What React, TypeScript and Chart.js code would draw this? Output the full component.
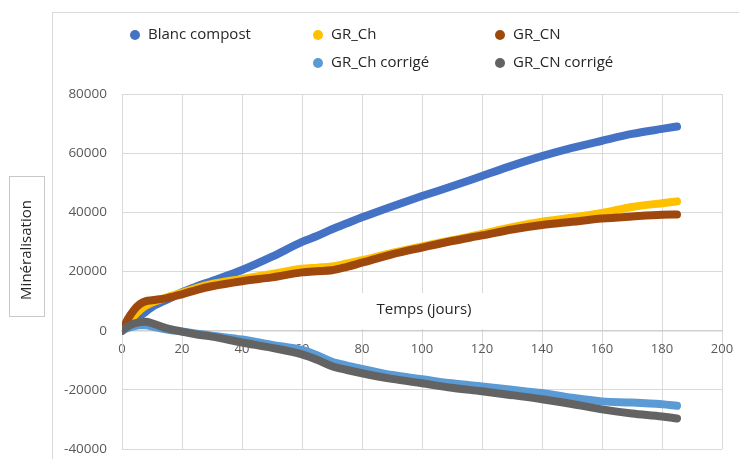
import { useEffect, useRef } from "react";
import { Chart, registerables } from "chart.js";

Chart.register(...registerables);

// ---- data ----
const days = [0, 2, 4, 6, 8, 10, 15, 20, 25, 30, 40, 50, 60, 65, 70, 75, 80, 90, 100, 110, 120, 130, 140, 150, 160, 170, 180, 185];

const blancCompost = [0, 1500, 3200, 5000, 6500, 8000, 10500, 13000, 15000, 16800, 20500, 25000, 30000, 32000, 34300, 36300, 38300, 42000, 45500, 48800, 52300, 55800, 59000, 61800, 64200, 66500, 68200, 69000];
const grCh = [0, 2500, 5000, 7000, 8500, 9500, 11300, 12800, 14500, 15800, 17500, 19200, 20900, 21300, 21700, 22700, 23800, 26300, 28500, 30600, 32700, 35000, 36800, 38200, 39800, 41800, 43100, 43700];
const grCn = [0, 4000, 7000, 9000, 10000, 10300, 11000, 12300, 13800, 15000, 16700, 18000, 19700, 20100, 20400, 21600, 23000, 25800, 28100, 30300, 32200, 34200, 35700, 36800, 37900, 38600, 39200, 39300];
const grChCorrige = [0, 900, 1500, 1800, 1800, 1400, 400, -300, -1000, -1700, -3000, -4800, -6500, -8300, -10500, -11800, -12900, -15000, -16400, -17800, -18900, -20000, -21100, -22700, -23900, -24300, -24900, -25400];
const grCnCorrige = [0, 1500, 2400, 2900, 3000, 2500, 800, -300, -1300, -2000, -4000, -5800, -8000, -9800, -12000, -13300, -14400, -16300, -17800, -19300, -20500, -21800, -23200, -24800, -26600, -28000, -29000, -29700];

const seriesLabels = ["Blanc compost", "GR_Ch", "GR_CN", "GR_Ch corrigé", "GR_CN corrigé"];
const seriesValues = [blancCompost, grCh, grCn, grChCorrige, grCnCorrige];
const seriesColors = ["#4472C4", "#FFC000", "#9E480E", "#5B9BD5", "#636363"];

const xMin = 0;
const xMax = 200;
const xStep = 20;
const yMin = -40000;
const yMax = 80000;
const yStep = 20000;

const yAxisTitle = "Minéralisation";
const xAxisTitle = "Temps (jours)";

const FONT = "'Open Sans', 'DejaVu Sans', sans-serif";

// legend grid placement (column, row) per series
const legendSlots = [
  { col: 0, row: 0 },
  { col: 1, row: 0 },
  { col: 2, row: 0 },
  { col: 1, row: 1 },
  { col: 2, row: 1 },
];
const legendColX = [135, 318, 500];
const legendRowY = [35, 63];

const decorPlugin = {
  id: "decor",
  beforeDraw(chart: any) {
    const ctx = chart.ctx as CanvasRenderingContext2D;
    ctx.save();
    ctx.fillStyle = "#ffffff";
    ctx.fillRect(0, 0, chart.width, chart.height);
    // outer chart frame
    ctx.strokeStyle = "#d9d9d9";
    ctx.lineWidth = 1;
    ctx.strokeRect(52.5, 12.5, chart.width + 10, chart.height + 10);
    // y axis title box
    ctx.strokeStyle = "#c8c8c8";
    ctx.strokeRect(9.5, 176.5, 35, 140);
    ctx.translate(27, 250);
    ctx.rotate(-Math.PI / 2);
    ctx.font = `15px ${FONT}`;
    ctx.fillStyle = "#262626";
    ctx.textAlign = "center";
    ctx.textBaseline = "middle";
    ctx.fillText(yAxisTitle, 0, 0);
    ctx.restore();
  },
  beforeDatasetsDraw(chart: any) {
    const ctx = chart.ctx as CanvasRenderingContext2D;
    ctx.save();
    ctx.fillStyle = "#ffffff";
    ctx.fillRect(354, 293, 136, 36);
    ctx.font = `15px ${FONT}`;
    ctx.fillStyle = "#262626";
    ctx.textAlign = "center";
    ctx.textBaseline = "middle";
    ctx.fillText(xAxisTitle, 424, 310);
    ctx.restore();
  },
  afterDraw(chart: any) {
    const ctx = chart.ctx as CanvasRenderingContext2D;
    ctx.save();
    ctx.font = `15px ${FONT}`;
    ctx.textAlign = "left";
    ctx.textBaseline = "middle";
    chart.data.datasets.forEach((ds: any, i: number) => {
      const slot = legendSlots[i];
      const cx = legendColX[slot.col];
      const cy = legendRowY[slot.row];
      ctx.beginPath();
      ctx.arc(cx, cy, 5, 0, Math.PI * 2);
      ctx.fillStyle = ds.borderColor;
      ctx.fill();
      ctx.fillStyle = "#262626";
      ctx.fillText(ds.label, cx + 13, cy);
    });
    ctx.restore();
  },
};

export default function App() {
  const canvasRef = useRef<HTMLCanvasElement | null>(null);

  useEffect(() => {
    if (!canvasRef.current) return;
    const datasets = seriesLabels.map((label, i) => ({
      label,
      data: days.map((d, j) => ({ x: d, y: seriesValues[i][j] })),
      borderColor: seriesColors[i],
      backgroundColor: seriesColors[i],
      borderWidth: 8,
      borderCapStyle: "round" as const,
      borderJoinStyle: "round" as const,
      pointRadius: 0,
      cubicInterpolationMode: "monotone" as const,
      fill: false,
      order: seriesLabels.length - i,
    }));

    const chart = new Chart(canvasRef.current, {
      type: "line",
      data: { datasets },
      options: {
        animation: false,
        responsive: false,
        devicePixelRatio: 1,
        layout: { padding: { left: 0, right: 17, top: 94, bottom: 10 } },
        plugins: {
          legend: { display: false },
          tooltip: { enabled: false },
        },
        scales: {
          x: {
            type: "linear",
            min: xMin,
            max: xMax,
            position: { y: 0 } as any,
            afterFit: (scale: any) => {
              scale.height = 0;
              scale.paddingLeft = 0;
              scale.paddingRight = 0;
            },
            grid: { color: "#d9d9d9", lineWidth: 1, drawTicks: false },
            border: { display: true, color: "#d0d0d0", width: 1.5 },
            ticks: {
              stepSize: xStep,
              padding: 11,
              color: "#595959",
              font: { family: FONT, size: 13 },
              callback: (v: any) => String(v),
              maxRotation: 0,
            },
          },
          y: {
            type: "linear",
            min: yMin,
            max: yMax,
            afterFit: (scale: any) => {
              scale.width = 122;
              scale.paddingTop = 0;
              scale.paddingBottom = 0;
            },
            grid: { color: "#d9d9d9", lineWidth: 1, drawTicks: false },
            border: { display: true, color: "#d9d9d9" },
            ticks: {
              stepSize: yStep,
              padding: 15,
              color: "#595959",
              font: { family: FONT, size: 13.5 },
              callback: (v: any) => String(v),
            },
          },
        },
      },
      plugins: [decorPlugin],
    });
    return () => chart.destroy();
  }, []);

  return (
    <div style={{ position: "fixed", left: 0, top: 0, width: 739, height: 459, background: "#fff" }}>
      <canvas ref={canvasRef} width={739} height={459} style={{ display: "block", width: 739, height: 459 }} />
    </div>
  );
}
